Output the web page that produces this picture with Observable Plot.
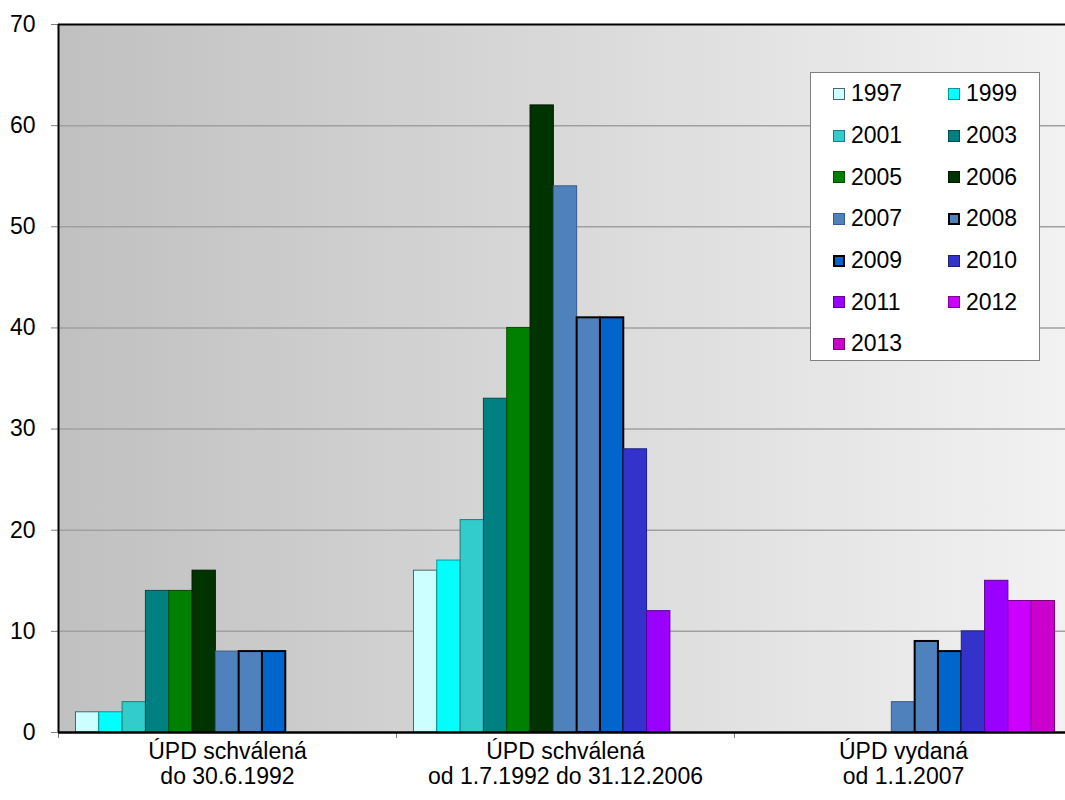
<!DOCTYPE html>
<html>
<head>
<meta charset="utf-8">
<script src="https://cdn.jsdelivr.net/npm/d3@7"></script>
<script src="https://cdn.jsdelivr.net/npm/@observablehq/plot@0.6"></script>
<style>
  html, body { margin: 0; padding: 0; overflow: hidden; background: #fff; }
  #wrap { position: relative; width: 1072px; height: 800px; }
  #legend { position: absolute; left: 810px; top: 72px; width: 230px; height: 289px;
    border: 1.5px solid #808080; background: #fff; box-sizing: border-box;
    font-family: "Liberation Sans", Arial, sans-serif; font-size: 23px; color: #000;
    display: grid; grid-template-columns: 115px 115px; grid-auto-rows: 41.7px; padding-left: 22px; padding-top: 0px; }
  .item { display: flex; align-items: center; }
  .sw { width: 12px; height: 12px; margin-right: 6px; box-sizing: border-box; }
</style>
</head>
<body>
<div id="wrap"><div id="chart"></div><div id="legend"></div></div>
<script>
const groups = ["ÚPD schválená\ndo 30.6.1992", "ÚPD schválená\nod 1.7.1992 do 31.12.2006", "ÚPD vydaná\nod 1.1.2007"];
const years = ["1997", "1999", "2001", "2003", "2005", "2006", "2007", "2008", "2009", "2010", "2011", "2012", "2013"];
const valuesGroup1 = [2, 2, 3, 14, 14, 16, 8, 8, 8, 0, 0, 0, 0];
const valuesGroup2 = [16, 17, 21, 33, 40, 62, 54, 41, 41, 28, 12, 0, 0];
const valuesGroup3 = [0, 0, 0, 0, 0, 0, 3, 9, 8, 10, 15, 13, 13];
const yTicks = [0, 10, 20, 30, 40, 50, 60, 70];
const fills = ["#ccffff", "#00ffff", "#33cccc", "#008080", "#008000", "#003300", "#4f81bd", "#4f81bd", "#0066cc", "#3333cc", "#9900ff", "#cc00ff", "#cc00cc"];
const strokes = ["#4d6666", "#009999", "#1f7a7a", "#004d4d", "#004d00", "#001a00", "#385d8a", "#000000", "#000000", "#1f1f7a", "#5c0099", "#7a0099", "#7a007a"];
const strokeWidths = [1, 1, 1, 1, 1, 1, 1, 2, 2, 1, 1, 1, 1];

const seriesValues = [valuesGroup1, valuesGroup2, valuesGroup3];
const pad = 0.75;
const span = years.length + 2 * pad;
const rows = [];
seriesValues.forEach((vals, gi) => vals.forEach((v, yi) => {
  if (v > 0) rows.push({group: groups[gi], gi, year: years[yi], yi, value: v});
}));

const plot = Plot.plot({
  width: 1072,
  height: 800,
  marginLeft: 58,
  marginRight: 0,
  marginTop: 24,
  marginBottom: 68,
  style: {fontFamily: "'Liberation Sans', Arial, sans-serif", fontSize: "23px", color: "#000", background: "transparent"},
  x: {domain: [0, span * groups.length], axis: null},
  y: {domain: [0, 70], axis: null},
  marks: [
    Plot.frame({fill: "url(#bgGrad)", stroke: "none"}),
    Plot.gridY(yTicks.filter(d => d > 0 && d < 70), {stroke: "#a0a0a0", strokeOpacity: 1, strokeWidth: 1.5}),
    Plot.axisY(yTicks, {tickSize: 7, tickPadding: 16, stroke: "#808080", fontSize: 23, label: null, color: "#000"}),
    Plot.rectY(rows, {
      x1: d => d.gi * span + pad + d.yi,
      x2: d => d.gi * span + pad + d.yi + 1,
      y1: 0,
      y2: "value",
      fill: d => fills[d.yi],
      stroke: d => strokes[d.yi],
      strokeWidth: d => strokeWidths[d.yi],
      inset: 0
    }),
    Plot.ruleX(groups.map((g, i) => i * span).concat([span * groups.length]), {y1: 0, y2: -0.6, stroke: "#808080", strokeWidth: 1}),
    Plot.ruleX([0], {stroke: "#000", strokeWidth: 2}),
    Plot.ruleY([70], {stroke: "#000", strokeWidth: 2}),
    Plot.ruleY([0], {stroke: "#000", strokeWidth: 2.5}),
    Plot.text(groups, {x: (d, i) => i * span + span / 2, y: 0, text: d => d, lineAnchor: "top", dy: 9, fontSize: 23, lineHeight: 1.08, fill: "#000"})
  ]
});

const ns = "http://www.w3.org/2000/svg";
const defs = document.createElementNS(ns, "defs");
defs.innerHTML = '<linearGradient id="bgGrad" x1="0" x2="1" y1="0" y2="0"><stop offset="0" stop-color="#c0c0c0"/><stop offset="1" stop-color="#f2f2f2"/></linearGradient>';
plot.insertBefore(defs, plot.firstChild);
document.getElementById("chart").appendChild(plot);

const legend = document.getElementById("legend");
years.forEach((y, i) => {
  const item = document.createElement("div");
  item.className = "item";
  const sw = document.createElement("div");
  sw.className = "sw";
  sw.style.background = fills[i];
  sw.style.border = `${strokeWidths[i] + 0.5}px solid ${strokes[i]}`;
  const t = document.createElement("span");
  t.textContent = y;
  item.appendChild(sw);
  item.appendChild(t);
  legend.appendChild(item);
});
</script>
</body>
</html>
